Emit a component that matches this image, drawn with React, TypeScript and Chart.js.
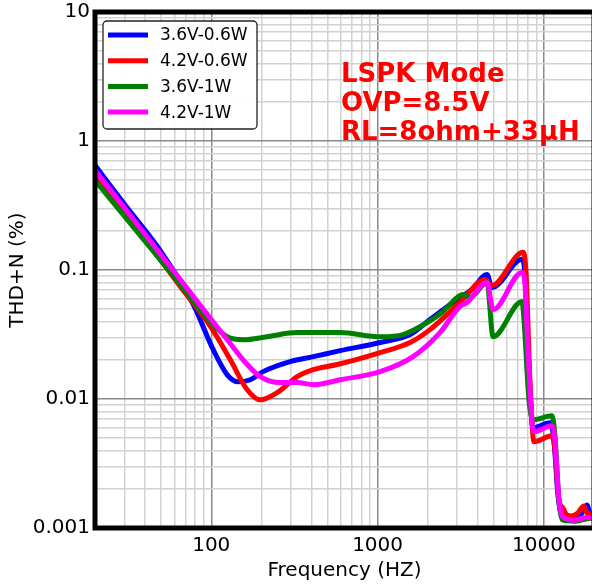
import React, { useEffect, useRef } from 'react';
import { Chart, registerables } from 'chart.js';

Chart.register(...registerables);

// ---------- data ----------
const seriesLabels = ['3.6V-0.6W', '4.2V-0.6W', '3.6V-1W', '4.2V-1W'];
const seriesColors = ['#0000ff', '#ff0000', '#008000', '#ff00ff'];

const blueFreq = [20, 30.4, 47.4, 78, 102.8, 124.8, 145, 171.5, 205, 298, 411, 596, 1036, 1567, 2066, 3126, 3698, 4550, 4876, 7385, 7691, 8128, 8590, 10864, 11480, 12140, 12830, 14330, 16450, 18120, 19140, 19950];
const blueThd = [0.648, 0.317, 0.152, 0.054, 0.0241, 0.0154, 0.0136, 0.0141, 0.0163, 0.0195, 0.0213, 0.0237, 0.0274, 0.0316, 0.0413, 0.0611, 0.0706, 0.0923, 0.0731, 0.121, 0.0923, 0.0169, 0.00598, 0.00654, 0.00482, 0.0018, 0.00124, 0.0012, 0.00124, 0.00151, 0.00124, 0.00124];

const redFreq = [20, 30.4, 47.4, 65.1, 100, 130, 164.5, 196.9, 248.9, 328.5, 410.6, 571.6, 1036, 1567, 2066, 3126, 4428, 4876, 7485, 7800, 8240, 8710, 11170, 11640, 12300, 13000, 13740, 14730, 15990, 17370, 18350, 19950];
const redThd = [0.562, 0.276, 0.129, 0.0746, 0.0357, 0.0202, 0.0118, 0.00986, 0.0112, 0.0149, 0.0169, 0.0185, 0.0229, 0.0274, 0.0345, 0.056, 0.0844, 0.0758, 0.137, 0.0973, 0.0141, 0.00466, 0.00519, 0.00404, 0.00165, 0.00143, 0.00126, 0.00124, 0.00131, 0.00148, 0.00128, 0.00131];

const greenFreq = [20, 30.4, 47.4, 66.9, 100, 124.8, 155.7, 216.6, 328.5, 451.8, 596, 1036, 1423, 1983, 2473, 2613, 3263, 3596, 4550, 4945, 7385, 7586, 8128, 8590, 11170, 11640, 12300, 13000, 15350, 17620, 19950];
const greenThd = [0.496, 0.257, 0.128, 0.0738, 0.0391, 0.0304, 0.0288, 0.0304, 0.0327, 0.0327, 0.0327, 0.0304, 0.0316, 0.0391, 0.0476, 0.0512, 0.0645, 0.0611, 0.08, 0.0304, 0.0569, 0.0413, 0.00986, 0.0069, 0.00741, 0.00528, 0.00165, 0.00115, 0.00113, 0.00117, 0.0012];

const magentaFreq = [20, 30.4, 47.4, 74.8, 100, 124.8, 164.5, 196.9, 259.5, 328.5, 410.6, 596, 1036, 1634, 2372, 3126, 3449, 4550, 4945, 7385, 7691, 8018, 8470, 8710, 11170, 11640, 12300, 13000, 15350, 17620, 19950];
const magentaThd = [0.593, 0.298, 0.143, 0.0669, 0.0413, 0.0288, 0.0185, 0.0149, 0.0134, 0.0134, 0.0129, 0.0141, 0.0163, 0.0213, 0.0327, 0.0521, 0.056, 0.08, 0.0493, 0.0957, 0.0771, 0.0241, 0.0069, 0.00557, 0.0062, 0.00482, 0.00171, 0.00122, 0.00115, 0.0012, 0.0012];

const xLabelledTicks = [100, 1000, 10000];
const yLabelledTicks = [0.001, 0.01, 0.1, 1, 10];
const yTickText = ['0.001', '0.01', '0.1', '1', '10'];
const xTitle = 'Frequency (HZ)';
const yTitle = 'THD+N (%)';
const annotationLines = ['LSPK Mode', 'OVP=8.5V', 'RL=8ohm+33\u03bcH'];

const X_MIN = 20;
const X_MAX = 20000;
const Y_MIN = 0.001;
const Y_MAX = 10;

const FONT = "'DejaVu Sans', 'Liberation Sans', sans-serif";

function gridValues(min: number, max: number): number[] {
  const out: number[] = [];
  const eps = 1e-9;
  for (let e = Math.floor(Math.log10(min)); e <= Math.ceil(Math.log10(max)); e++) {
    for (let m = 1; m <= 9; m++) {
      const v = parseFloat((m * Math.pow(10, e)).toPrecision(6));
      if (v >= min * (1 - eps) && v <= max * (1 + eps)) out.push(v);
    }
  }
  return out;
}

const isDecade = (v: number) => Math.abs(Math.log10(v) - Math.round(Math.log10(v))) < 1e-6;

const toPoints = (xs: number[], ys: number[]) => xs.map((x, i) => ({ x, y: ys[i] }));

const frameAndTextPlugin = {
  id: 'frameAndText',
  afterDatasetsDraw(chart: any) {
    const { ctx, chartArea } = chart;
    ctx.save();
    ctx.strokeStyle = '#000';
    ctx.lineWidth = 5;
    ctx.strokeRect(chartArea.left, chartArea.top, chartArea.right - chartArea.left, chartArea.bottom - chartArea.top);
    ctx.restore();
  },
  afterDraw(chart: any) {
    const { ctx, chartArea } = chart;
    ctx.save();
    // legend
    const lx = chartArea.left + 8;
    const ly = chartArea.top + 9;
    const lw = 154;
    const lh = 108;
    ctx.beginPath();
    if ((ctx as any).roundRect) (ctx as any).roundRect(lx, ly, lw, lh, 4);
    else ctx.rect(lx, ly, lw, lh);
    ctx.fillStyle = 'rgba(255,255,255,0.95)';
    ctx.fill();
    ctx.lineWidth = 1.3;
    ctx.strokeStyle = '#222';
    ctx.stroke();
    chart.data.datasets.forEach((ds: any, i: number) => {
      const y = ly + 14 + i * 25.7;
      ctx.strokeStyle = ds.borderColor;
      ctx.lineWidth = 5;
      ctx.beginPath();
      ctx.moveTo(lx + 5, y);
      ctx.lineTo(lx + 45, y);
      ctx.stroke();
      ctx.fillStyle = '#000';
      ctx.font = `17px ${FONT}`;
      ctx.textBaseline = 'middle';
      ctx.textAlign = 'left';
      ctx.fillText(ds.label, lx + 57, y + 1);
    });
    // annotation
    ctx.fillStyle = '#ff0000';
    ctx.font = `bold 26px ${FONT}`;
    ctx.textBaseline = 'alphabetic';
    annotationLines.forEach((t, i) => {
      ctx.fillText(t, 341, 82 + i * 29);
    });
    ctx.restore();
  },
};

export default function App() {
  const ref = useRef<HTMLCanvasElement | null>(null);

  useEffect(() => {
    if (!ref.current) return;
    const series = [
      toPoints(blueFreq, blueThd),
      toPoints(redFreq, redThd),
      toPoints(greenFreq, greenThd),
      toPoints(magentaFreq, magentaThd),
    ];
    const chart = new Chart(ref.current, {
      type: 'line',
      data: {
        datasets: series.map((pts, i) => ({
          label: seriesLabels[i],
          data: pts,
          borderColor: seriesColors[i],
          backgroundColor: seriesColors[i],
          borderWidth: 5,
          pointRadius: 0,
          fill: false,
          cubicInterpolationMode: 'monotone' as const,
          borderJoinStyle: 'round' as const,
          borderCapStyle: 'round' as const,
          order: 3 - i,
        })),
      },
      options: {
        animation: false,
        responsive: false,
        devicePixelRatio: 1,
        parsing: false as any,
        layout: { padding: { top: 12, right: 6, left: 0, bottom: 0 } },
        plugins: {
          legend: { display: false },
          tooltip: { enabled: false },
        },
        scales: {
          x: {
            type: 'logarithmic',
            min: X_MIN,
            max: X_MAX,
            afterBuildTicks: (scale: any) => {
              scale.ticks = gridValues(X_MIN, X_MAX).map((v) => ({ value: v }));
            },
            afterFit: (scale: any) => {
              scale.height = 60;
              scale.paddingLeft = 0;
              scale.paddingRight = 0;
            },
            ticks: {
              autoSkip: false,
              maxRotation: 0,
              minRotation: 0,
              padding: 6,
              color: '#000',
              font: { family: FONT, size: 20 },
              callback: (value: any) => {
                const v = Number(value);
                const idx = xLabelledTicks.findIndex((t) => Math.abs(t - v) / t < 1e-6);
                return idx >= 0 ? String(xLabelledTicks[idx]) : '';
              },
            },
            grid: {
              drawTicks: false,
              lineWidth: 1.5,
              color: (ctx: any) => (ctx.tick && isDecade(ctx.tick.value) ? '#8a8a8a' : '#d2d2d2'),
            },
            border: { display: false },
            title: {
              display: true,
              text: xTitle,
              color: '#000',
              font: { family: FONT, size: 20 },
              padding: { top: 0, bottom: 5 },
            },
          },
          y: {
            type: 'logarithmic',
            min: Y_MIN,
            max: Y_MAX,
            afterBuildTicks: (scale: any) => {
              scale.ticks = gridValues(Y_MIN, Y_MAX).map((v) => ({ value: v }));
            },
            afterFit: (scale: any) => {
              scale.width = 95;
              scale.paddingTop = 0;
              scale.paddingBottom = 0;
            },
            ticks: {
              autoSkip: false,
              padding: 5,
              color: '#000',
              font: { family: FONT, size: 20 },
              callback: (value: any) => {
                const v = Number(value);
                const idx = yLabelledTicks.findIndex((t) => Math.abs(t - v) / t < 1e-6);
                return idx >= 0 ? yTickText[idx] : '';
              },
            },
            grid: {
              drawTicks: false,
              lineWidth: 1.5,
              color: (ctx: any) => (ctx.tick && isDecade(ctx.tick.value) ? '#8a8a8a' : '#d2d2d2'),
            },
            border: { display: false },
            title: {
              display: true,
              text: yTitle,
              color: '#000',
              font: { family: FONT, size: 20 },
              padding: { top: 6, bottom: 0 },
            },
          },
        },
      },
      plugins: [frameAndTextPlugin],
    } as any);
    return () => chart.destroy();
  }, []);

  return (
    <div
      style={{
        position: 'fixed',
        left: 0,
        top: 0,
        width: 592,
        height: 588,
        overflow: 'hidden',
        background: '#fff',
      }}
    >
      <canvas ref={ref} width={600} height={588} style={{ display: 'block', width: 600, height: 588 }} />
    </div>
  );
}
